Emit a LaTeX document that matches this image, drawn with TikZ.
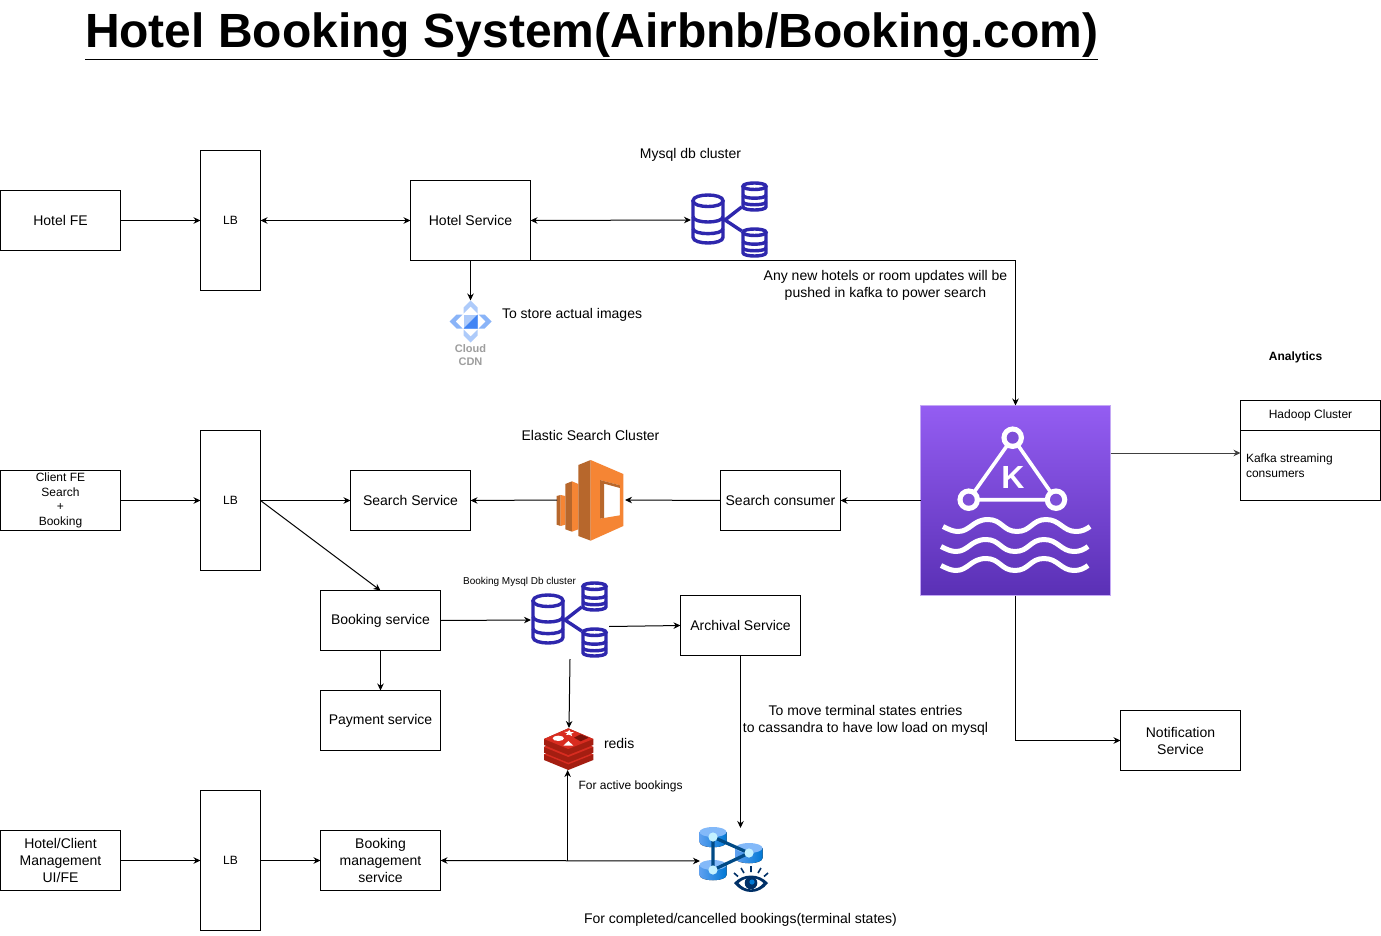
\documentclass[tikz,border=0pt]{standalone}
\usepackage{fontspec}
\setmainfont{Liberation Sans}
\usetikzlibrary{arrows.meta,calc}
\definecolor{dbblue}{HTML}{2E27AD}
\definecolor{esL}{HTML}{F58534}
\definecolor{esD}{HTML}{B7672C}
\definecolor{rdA}{HTML}{D82C20}
\definecolor{rdB}{HTML}{A41E11}
\definecolor{rdC}{HTML}{7A1209}
\definecolor{azD}{HTML}{004A85}
\definecolor{azE}{HTML}{003067}
\definecolor{azL}{HTML}{5EA0EF}
\definecolor{azM}{HTML}{0078D4}
\definecolor{azT}{HTML}{83B9F9}
\definecolor{azC}{HTML}{C3F1FF}
\definecolor{kTop}{HTML}{945DF2}
\definecolor{kBot}{HTML}{5A30B5}
\definecolor{kEdge}{HTML}{C4A8F5}
\definecolor{kHole}{HTML}{7E4FD8}
\definecolor{cdnl}{HTML}{AECBFA}
\definecolor{cdnm}{HTML}{8AB4F8}
\definecolor{cdnd}{HTML}{4285F4}
\tikzset{
  x=1pt,y=-1pt,
  box/.style={draw=black,line width=1pt,inner sep=0pt,outer sep=0pt,align=center,font=\fontsize{14}{17}\selectfont},
  smallbox/.style={box,font=\fontsize{12}{14.5}\selectfont},
  ghost/.style={inner sep=0pt,outer sep=0pt},
  lbl/.style={inner sep=0pt,outer sep=0pt,align=center,font=\fontsize{14}{17}\selectfont},
  lblsm/.style={lbl,font=\fontsize{12}{14.5}\selectfont},
  conn/.style={draw=black,line width=1pt,-{Stealth[length=7pt,width=6.5pt]}},
  connb/.style={draw=black,line width=1pt,{Stealth[length=7pt,width=6.5pt]}-{Stealth[length=7pt,width=6.5pt]}},
  dbline/.style={draw=dbblue,line width=3.4pt},
  wave/.style={draw=white,line width=5pt,line cap=butt},
}
\newcommand{\dbcyl}[4]{%
  \begin{scope}[shift={(#1,#2)},xscale=#3,yscale=#4]
    \draw[dbline] (0,.12) .. controls (0,-.04) and (1,-.04) .. (1,.12) .. controls (1,.28) and (0,.28) .. (0,.12) -- cycle;
    \draw[dbline] (0,.12) -- (0,.88) .. controls (0,1.04) and (1,1.04) .. (1,.88) -- (1,.12);
    \draw[dbline] (0,.45) .. controls (0,.60) and (1,.60) .. (1,.45);
    \draw[dbline] (0,.70) .. controls (0,.84) and (1,.84) .. (1,.70);
  \end{scope}}
\newcommand{\dbcluster}[2]{%
  \begin{scope}[shift={(#1,#2)}]
    \dbcyl{2}{14}{30}{48}
    \dbcyl{52}{2}{23}{27}
    \dbcyl{52}{48}{23}{27}
    \draw[dbline] (50.7,26) -- (34,39) -- (50.7,50);
  \end{scope}}
\newcommand{\wavy}[2]{%
  \draw[wave] (#1,#2) .. controls (#1+6,#2+3) and (#1+10,#2+5) .. (#1+15,#2+5)
    .. controls (#1+27,#2+5) and (#1+30,#2-7) .. (#1+45,#2-7)
    .. controls (#1+59,#2-7) and (#1+60,#2+5) .. (#1+74,#2+5)
    .. controls (#1+88,#2+5) and (#1+89,#2-7) .. (#1+103,#2-7)
    .. controls (#1+117,#2-7) and (#1+120,#2+5) .. (#1+133,#2+5)
    .. controls (#1+139,#2+5) and (#1+143,#2+3) .. (#1+147,#2);}
\newcommand{\azcyl}[2]{%
  \fill[left color=azL,right color=azM] (#1-13.5,#2-5) -- (#1-13.5,#2+5) .. controls (#1-13.5,#2+12) and (#1+13.5,#2+12) .. (#1+13.5,#2+5) -- (#1+13.5,#2-5) -- cycle;
  \fill[azT] (#1,#2-5) ellipse [x radius=13.5,y radius=5];}
\begin{document}
\begin{tikzpicture}
\useasboundingbox (0,0) rectangle (1381,936);
\fill[white] (0,0) rectangle (1381,936);
\node[ghost,anchor=west,font=\fontsize{48}{56}\bfseries] (title) at (85,36) {\underline{Hotel Booking System(Airbnb/Booking.com)}};

\node[box,minimum width=120pt,minimum height=60pt] (hotelfe) at (60.5,220.5) {Hotel FE};
\node[smallbox,minimum width=60pt,minimum height=140pt] (lba) at (230.5,220.5) {LB};
\node[box,minimum width=120pt,minimum height=80pt] (hotelsvc) at (470.5,220.5) {Hotel Service};
\node[smallbox,minimum width=120pt,minimum height=60pt] (clientfe) at (60.5,500.5) {Client FE\\Search\\+\\Booking};
\node[smallbox,minimum width=60pt,minimum height=140pt] (lbb) at (230.5,500.5) {LB};
\node[box,minimum width=120pt,minimum height=60pt] (searchsvc) at (410.5,500.5) {Search Service};
\node[box,minimum width=120pt,minimum height=60pt] (consumer) at (780.5,500.5) {Search consumer};
\node[box,minimum width=120pt,minimum height=60pt] (bookingsvc) at (380.5,620.5) {Booking service};
\node[box,minimum width=120pt,minimum height=60pt] (payment) at (380.5,720.5) {Payment service};
\node[box,minimum width=120pt,minimum height=60pt] (archival) at (740.5,625.5) {Archival Service};
\node[box,minimum width=120pt,minimum height=60pt] (notif) at (1180.5,740.5) {Notification\\Service};
\node[box,minimum width=120pt,minimum height=60pt] (mgmtfe) at (60.5,860.5) {Hotel/Client\\Management\\UI/FE};
\node[smallbox,minimum width=60pt,minimum height=140pt] (lbc) at (230.5,860.5) {LB};
\node[box,minimum width=120pt,minimum height=60pt] (mgmtsvc) at (380.5,860.5) {Booking\\management\\service};
\node[smallbox,minimum width=140pt,minimum height=30pt] (hadoophead) at (1310.5,415.5) {Hadoop Cluster};
\node[smallbox,minimum width=140pt,minimum height=70pt] (hadoop) at (1310.5,465.5) {};
\node[lblsm,align=left,anchor=west] (hadooptxt) at (1246,465.5) {Kafka streaming\\consumers};

\node[ghost,minimum width=190pt,minimum height=190pt,draw=kEdge,line width=1pt,top color=kTop,bottom color=kBot] (kafka) at (1015.5,500.5) {};
\draw[white,line width=3.6pt] (1012.7,437.7) -- (968.7,499.7) -- (1056,499.7) -- cycle;
\foreach \p/\c in {(1012.7,437.7)/kHole,(968.7,499.7)/kHole,(1056,499.7)/kHole} {
  \fill[white] \p circle [radius=11.3];
  \fill[\c] \p circle [radius=6];
}
\node[ghost,text=white,font=\fontsize{32}{32}\bfseries] (kay) at (1013,477.5) {K};
\wavy{943}{526.5}
\wavy{941}{546.5}
\wavy{941}{565.5}

\dbcluster{691}{181}
\node[ghost,minimum width=78pt,minimum height=78pt] (mysql) at (730,220) {};
\dbcluster{531}{581}
\node[ghost,minimum width=78pt,minimum height=78pt] (bookdb) at (570,620) {};

\begin{scope}[shift={(470.5,321.5)}]
  \fill[cdnl] (0,-21) -- (7,-14) -- (7,-8) -- (0,-15) -- (-7,-8) -- (-7,-14) -- cycle;
  \fill[cdnl] (0,21) -- (7,14) -- (7,8) -- (0,15) -- (-7,8) -- (-7,14) -- cycle;
  \fill[cdnm] (-21,0) -- (-14,-7) -- (-8,-7) -- (-15,0) -- (-8,7) -- (-14,7) -- cycle;
  \fill[cdnm] (21,0) -- (14,-7) -- (8,-7) -- (15,0) -- (8,7) -- (14,7) -- cycle;
  \fill[cdnl] (-7,-7) rectangle (7,7);
  \fill[cdnd] (7,-7) -- (7,7) -- (-7,7) -- cycle;
\end{scope}
\node[ghost,minimum width=42pt,minimum height=42pt] (cdn) at (470.5,321.5) {};
\node[lbl,text=black!38,font=\fontsize{11}{13}\bfseries] (cdntxt) at (470.5,355.5) {Cloud\\CDN};

\begin{scope}[shift={(540,450)},xscale=.3333,yscale=.3333]
  \fill[esD] (50,138) -- (62,135) -- (62,228) -- (50,224) -- cycle;
  \fill[esL] (62,135) -- (76,138) -- (76,224) -- (62,228) -- cycle;
  \fill[esD] (76,102) -- (96,94) -- (96,245) -- (76,238) -- cycle;
  \fill[esL] (96,94) -- (115,102) -- (115,238) -- (96,245) -- cycle;
  \fill[esD] (115,45) -- (152,30) -- (152,272) -- (115,258) -- cycle;
  \fill[esL,even odd rule] (152,30) -- (250,72) -- (250,228) -- (152,272) -- cycle (180,90) -- (240,106) -- (240,196) -- (180,206) -- cycle;
  \fill[esD] (180,90) -- (240,106) -- (240,114) -- (192,101) -- (192,204) -- (180,206) -- cycle;
\end{scope}
\node[ghost,minimum width=68pt,minimum height=80pt] (elastic) at (591,500) {};

\begin{scope}[shift={(530,715)},xscale=.3333,yscale=.3333]
  \fill[rdB] (42,118) -- (115,90) -- (190,118) -- (190,135) -- (115,165) -- (42,135) -- cycle;
  \fill[rdA] (42,118) -- (115,90) -- (190,118) -- (115,148) -- cycle;
  \fill[rdB] (42,96) -- (115,66) -- (190,96) -- (190,113) -- (115,143) -- (42,113) -- cycle;
  \fill[rdA] (42,96) -- (115,66) -- (190,96) -- (115,126) -- cycle;
  \fill[rdB] (42,72) -- (115,40) -- (190,72) -- (190,90) -- (115,120) -- (42,90) -- cycle;
  \fill[rdA] (42,72) -- (115,40) -- (190,72) -- (115,102) -- cycle;
  \fill[rdC] (132,68) -- (152,58) -- (176,68) -- (152,79) -- cycle;
  \fill[white] (85,70) ellipse [x radius=17,y radius=8];
  \fill[white] (100,92) -- (115,78) -- (130,92) -- cycle;
  \fill[white] (118,45) -- (122,51) -- (132,52) -- (124,56) -- (126,63) -- (117,59) -- (108,60) -- (112,55) -- (103,51) -- (113,50) -- cycle;
\end{scope}
\node[ghost,minimum width=50pt,minimum height=42pt] (redis) at (569,749) {};

\azcyl{713}{837}
\azcyl{749}{853}
\azcyl{713}{870}
\draw[azD,line width=3.2pt] (713,837) -- (713,870) -- (749,853) -- (713,837);
\foreach \p in {(713,837),(749,853),(713,870)} \fill[azC] \p circle [radius=4.6];
\begin{scope}[shift={(751,884)}]
  \fill[azE,even odd rule] (-17,-1) .. controls (-8,-11) and (8,-11) .. (17,-1) .. controls (8,11) and (-8,11) .. (-17,-1) -- cycle
     (-12.5,-1) .. controls (-6,-7.5) and (6,-7.5) .. (12.5,-1) .. controls (6,7.5) and (-6,7.5) .. (-12.5,-1) -- cycle;
  \fill[azE] (0,-1) circle [radius=6.3];
  \fill[azM] (1,-2) circle [radius=2.6];
  \draw[azE,line width=1.6pt] (0,-12) -- (0,-18) (-7,-11) -- (-10,-16) (7,-11) -- (10,-16) (-13,-7.5) -- (-17,-11) (13,-7.5) -- (17,-11);
\end{scope}
\node[ghost,minimum width=62pt,minimum height=66pt] (azure) at (731,861) {};

\node[lbl] (t1) at (690.5,155) {Mysql db cluster};
\node[lbl] (t2) at (885.5,285.5) {Any new hotels or room updates will be\\pushed in kafka to power search};
\node[lbl,anchor=west] (t3) at (502,315) {To store actual images};
\node[lblsm,font=\fontsize{12}{14}\bfseries] (t4) at (1295.5,357) {Analytics};
\node[lbl] (t5) at (590.5,435) {Elastic Search Cluster};
\node[ghost,font=\fontsize{10}{12}\selectfont] (t6) at (519.5,581.5) {Booking Mysql Db cluster};
\node[lbl,anchor=west] (t7) at (604,743) {redis};
\node[lblsm,anchor=west] (t8) at (578.5,786) {For active bookings};
\node[lbl] (t9) at (865.5,720.5) {To move terminal states entries\\to cassandra to have low load on mysql};
\node[lbl] (t10) at (740.5,920) {For completed/cancelled bookings(terminal states)};

\draw[conn] (hotelfe.east) -- (lba.west);
\draw[connb] (lba.east) -- (hotelsvc.west);
\draw[connb] (hotelsvc.east) -- (mysql.west);
\draw[conn] (hotelsvc.south) -- (cdn.north);
\draw[conn] (hotelsvc.south east) -| (kafka.north);
\draw[conn] (clientfe.east) -- (lbb.west);
\draw[conn] (lbb.east) -- (searchsvc.west);
\draw[conn] (lbb.east) -- (bookingsvc.north);
\draw[conn] (kafka.west) -- (consumer.east);
\draw[conn] (consumer.west) -- (elastic.east);
\draw[conn] (elastic.west) -- (searchsvc.east);
\draw[conn] (bookingsvc.east) -- (bookdb.west);
\draw[conn] (bookingsvc.south) -- (payment.north);
\draw[conn] ([yshift=-6.5pt]bookdb.east) -- (archival.west);
\draw[conn] (bookdb.south) -- (redis.north);
\draw[conn] (archival.south) -- (archival.south |- azure.north);
\draw[conn] (kafka.south) |- (notif.west);
\draw[conn,draw=black!75] ([yshift=47.5pt]kafka.east) -- ([yshift=12.5pt]hadoop.west);
\draw[conn] (mgmtfe.east) -- (lbc.west);
\draw[conn] (lbc.east) -- (mgmtsvc.west);
\draw[connb] (mgmtsvc.east) -- (azure.west);
\coordinate (tee) at ($(mgmtsvc.east)!0.49!(azure.west)$);
\draw[conn] (tee) -- (tee |- redis.south);
\end{tikzpicture}
\end{document}
